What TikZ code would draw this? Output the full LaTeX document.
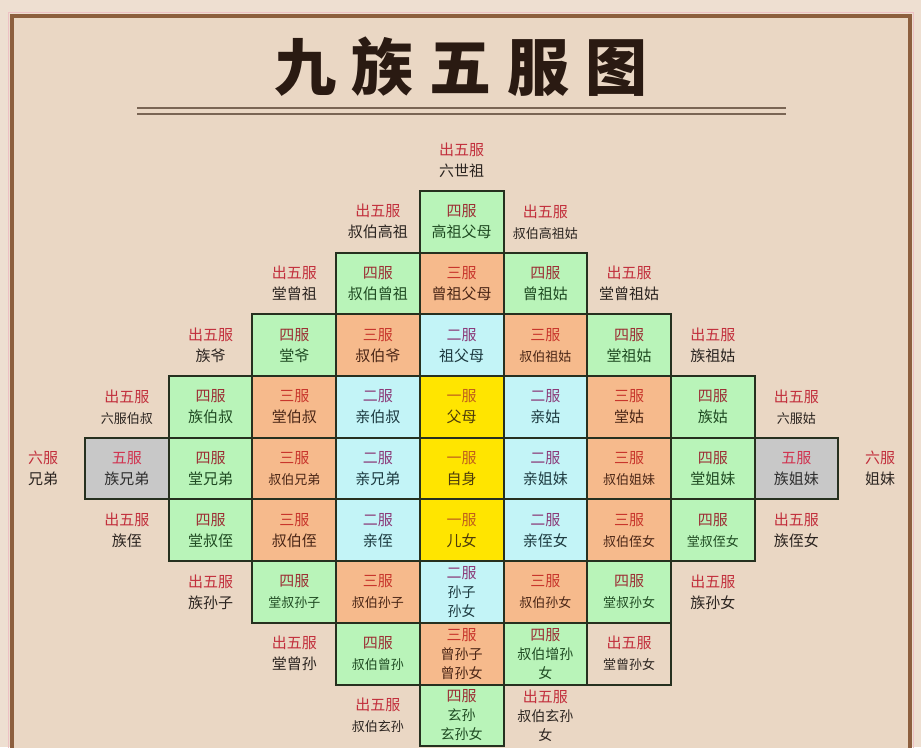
\documentclass[tikz,border=0pt]{standalone}
\usepackage{fontspec}
\newfontfamily\cjk{Noto Sans CJK SC}
\usepackage{tikz}
\usetikzlibrary{matrix,positioning}

\definecolor{paper}{HTML}{EAD7C4}
\definecolor{paperout}{HTML}{EEDFD1}
\definecolor{framec}{HTML}{8D5F3E}
\definecolor{cellline}{HTML}{26301F}
\definecolor{siG}{HTML}{B9F4B9}
\definecolor{sanO}{HTML}{F6BA8C}
\definecolor{erC}{HTML}{C3F4F7}
\definecolor{yiY}{HTML}{FFE500}
\definecolor{wuH}{HTML}{C8C8C8}
\definecolor{chuL}{HTML}{C22F3C}
\definecolor{siL}{HTML}{9C2F35}
\definecolor{sanL}{HTML}{C8362C}
\definecolor{erL}{HTML}{8B3A78}
\definecolor{yiL}{HTML}{C0601C}
\definecolor{wuL}{HTML}{D1324F}
\definecolor{siT}{HTML}{1F4A22}
\definecolor{sanT}{HTML}{4A2616}
\definecolor{erT}{HTML}{1D3A40}
\definecolor{yiT}{HTML}{4D3B0C}
\definecolor{wuT}{HTML}{2E2E2E}
\definecolor{chuT}{HTML}{2B2420}
\definecolor{titleT}{HTML}{2A1A12}
\definecolor{ruleC}{HTML}{7A6554}
\colorlet{labc}{black}

\newcommand\Fu[2]{{\color{labc}#1}\\#2}
\newcommand\Fs[2]{{\color{labc}#1}\\{\fontsize{13}{13}\selectfont#2}}
\newcommand\Ft[3]{{\color{labc}#1}\\{\fontsize{14}{14}\selectfont#2}\\{\fontsize{14}{14}\selectfont#3}}

\begin{document}
\begin{tikzpicture}[x=1pt,y=-1pt,
  cell/.style={minimum width=83.7pt,minimum height=61.7pt,inner sep=0pt,outer sep=0pt,
    align=center,font=\cjk\fontsize{15}{21}\selectfont},
  yifu/.style={fill=yiY,text=yiT,execute at begin node={\colorlet{labc}{yiL}}},
  erfu/.style={fill=erC,text=erT,execute at begin node={\colorlet{labc}{erL}}},
  sanfu/.style={fill=sanO,text=sanT,execute at begin node={\colorlet{labc}{sanL}}},
  sifu/.style={fill=siG,text=siT,execute at begin node={\colorlet{labc}{siL}}},
  wufu/.style={fill=wuH,text=wuT,execute at begin node={\colorlet{labc}{wuL}}},
  chu/.style={text=chuT,execute at begin node={\colorlet{labc}{chuL}}},
  san/.style={font=\cjk\fontsize{15}{19}\selectfont}]
\useasboundingbox (0,0) rectangle (921,747);
\fill[paperout] (0,0) rectangle (921,747);
\draw[draw=chuL!30,line width=1pt] (8.5,12) rectangle (913.5,790);
\filldraw[fill=paper,draw=framec,line width=4pt] (12,16) rectangle (910,790);

\node[font=\cjk\bfseries\fontsize{62}{62}\selectfont,text=titleT] (Tjiuzu) at (461,67)
  {九\hskip16pt 族\hskip16pt 五\hskip16pt 服\hskip16pt 图};
\draw[ruleC,line width=1.8pt] (137,108) -- (786,108);
\draw[ruleC,line width=1.8pt] (137,114) -- (786,114);

\matrix [ampersand replacement=\&,nodes={cell},inner sep=0pt,column sep=0pt,row sep=0pt] (Mfu) at (461.7,437.7) {
 \& \& \& \& \& \node[chu] (Fliushizu) {\Fu{出五服}{六世祖}}; \\
 \& \& \& \& \node[chu] (Fshubogaozu) {\Fu{出五服}{叔伯高祖}};
   \& \node[sifu] (Fgaozu) {\Fu{四服}{高祖父母}};
   \& \node[chu] (Fgaozugu) {\Fs{出五服}{叔伯高祖姑}}; \\
 \& \& \& \node[chu] (Ftangzengzu) {\Fu{出五服}{堂曾祖}};
   \& \node[sifu] (Fshubozengzu) {\Fu{四服}{叔伯曾祖}};
   \& \node[sanfu] (Fzengzu) {\Fu{三服}{曾祖父母}};
   \& \node[sifu] (Fzengzugu) {\Fu{四服}{曾祖姑}};
   \& \node[chu] (Ftangzengzugu) {\Fu{出五服}{堂曾祖姑}}; \\
 \& \& \node[chu] (Fzuye) {\Fu{出五服}{族爷}};
   \& \node[sifu] (Ftangye) {\Fu{四服}{堂爷}};
   \& \node[sanfu] (Fshuboye) {\Fu{三服}{叔伯爷}};
   \& \node[erfu] (Fzufu) {\Fu{二服}{祖父母}};
   \& \node[sanfu] (Fshubozugu) {\Fs{三服}{叔伯祖姑}};
   \& \node[sifu] (Ftangzugu) {\Fu{四服}{堂祖姑}};
   \& \node[chu] (Fzuzugu) {\Fu{出五服}{族祖姑}}; \\
 \& \node[chu] (Fliushubo) {\Fs{出五服}{六服伯叔}};
   \& \node[sifu] (Fzushubo) {\Fu{四服}{族伯叔}};
   \& \node[sanfu] (Ftangbo) {\Fu{三服}{堂伯叔}};
   \& \node[erfu] (Fqinbo) {\Fu{二服}{亲伯叔}};
   \& \node[yifu] (Ffumu) {\Fu{一服}{父母}};
   \& \node[erfu] (Fqingu) {\Fu{二服}{亲姑}};
   \& \node[sanfu] (Ftanggu) {\Fu{三服}{堂姑}};
   \& \node[sifu] (Fzugu) {\Fu{四服}{族姑}};
   \& \node[chu] (Fliugu) {\Fs{出五服}{六服姑}}; \\
 \node[chu] (Fliuxiong) {\Fu{六服}{兄弟}};
   \& \node[wufu] (Fzuxiong) {\Fu{五服}{族兄弟}};
   \& \node[sifu] (Ftangxiong) {\Fu{四服}{堂兄弟}};
   \& \node[sanfu] (Fshuboxiong) {\Fs{三服}{叔伯兄弟}};
   \& \node[erfu] (Fqinxiong) {\Fu{二服}{亲兄弟}};
   \& \node[yifu] (Fzishen) {\Fu{一服}{自身}};
   \& \node[erfu] (Fqinjie) {\Fu{二服}{亲姐妹}};
   \& \node[sanfu] (Fshubojie) {\Fs{三服}{叔伯姐妹}};
   \& \node[sifu] (Ftangjie) {\Fu{四服}{堂姐妹}};
   \& \node[wufu] (Fzujie) {\Fu{五服}{族姐妹}};
   \& \node[chu] (Fliujie) {\Fu{六服}{姐妹}}; \\
 \& \node[chu] (Fzuzhi) {\Fu{出五服}{族侄}};
   \& \node[sifu] (Ftangzhi) {\Fu{四服}{堂叔侄}};
   \& \node[sanfu] (Fshubozhi) {\Fu{三服}{叔伯侄}};
   \& \node[erfu] (Fqinzhi) {\Fu{二服}{亲侄}};
   \& \node[yifu] (Ferny) {\Fu{一服}{儿女}};
   \& \node[erfu] (Fqinzhinv) {\Fu{二服}{亲侄女}};
   \& \node[sanfu] (Fshubozhinv) {\Fs{三服}{叔伯侄女}};
   \& \node[sifu] (Ftangzhinv) {\Fs{四服}{堂叔侄女}};
   \& \node[chu] (Fzuzhinv) {\Fu{出五服}{族侄女}}; \\
 \& \& \node[chu] (Fzusun) {\Fu{出五服}{族孙子}};
   \& \node[sifu] (Ftangsun) {\Fs{四服}{堂叔孙子}};
   \& \node[sanfu] (Fshubosun) {\Fs{三服}{叔伯孙子}};
   \& \node[erfu,san] (Fsun) {\Ft{二服}{孙子}{孙女}};
   \& \node[sanfu] (Fshubosunnv) {\Fs{三服}{叔伯孙女}};
   \& \node[sifu] (Ftangsunnv) {\Fs{四服}{堂叔孙女}};
   \& \node[chu] (Fzusunnv) {\Fu{出五服}{族孙女}}; \\
 \& \& \& \node[chu] (Ftangzengsun) {\Fu{出五服}{堂曾孙}};
   \& \node[sifu] (Fshubozengsun) {\Fs{四服}{叔伯曾孙}};
   \& \node[sanfu,san] (Fzengsun) {\Ft{三服}{曾孙子}{曾孙女}};
   \& \node[sifu,san] (Fshubozengsunnv) {\Ft{四服}{叔伯增孙}{女}};
   \& \node[chu] (Ftangzengsunnv) {\Fs{出五服}{堂曾孙女}}; \\
 \& \& \& \& \node[chu] (Fshuboxuan) {\Fs{出五服}{叔伯玄孙}};
   \& \node[sifu,san] (Fxuansun) {\Ft{四服}{玄孙}{玄孙女}};
   \& \node[chu,san] (Fshuboxuannv) {\Ft{出五服}{叔伯玄孙}{女}}; \\
};
\foreach \n in {Fgaozu,Fshubozengzu,Fzengzu,Fzengzugu,Ftangye,Fshuboye,Fzufu,Fshubozugu,Ftangzugu,
  Fzushubo,Ftangbo,Fqinbo,Ffumu,Fqingu,Ftanggu,Fzugu,
  Fzuxiong,Ftangxiong,Fshuboxiong,Fqinxiong,Fzishen,Fqinjie,Fshubojie,Ftangjie,Fzujie,
  Ftangzhi,Fshubozhi,Fqinzhi,Ferny,Fqinzhinv,Fshubozhinv,Ftangzhinv,
  Ftangsun,Fshubosun,Fsun,Fshubosunnv,Ftangsunnv,
  Fshubozengsun,Fzengsun,Fshubozengsunnv,Ftangzengsunnv,Fxuansun}
  \draw[cellline,line width=2pt] (\n.north west) rectangle (\n.south east);
\end{tikzpicture}
\end{document}
